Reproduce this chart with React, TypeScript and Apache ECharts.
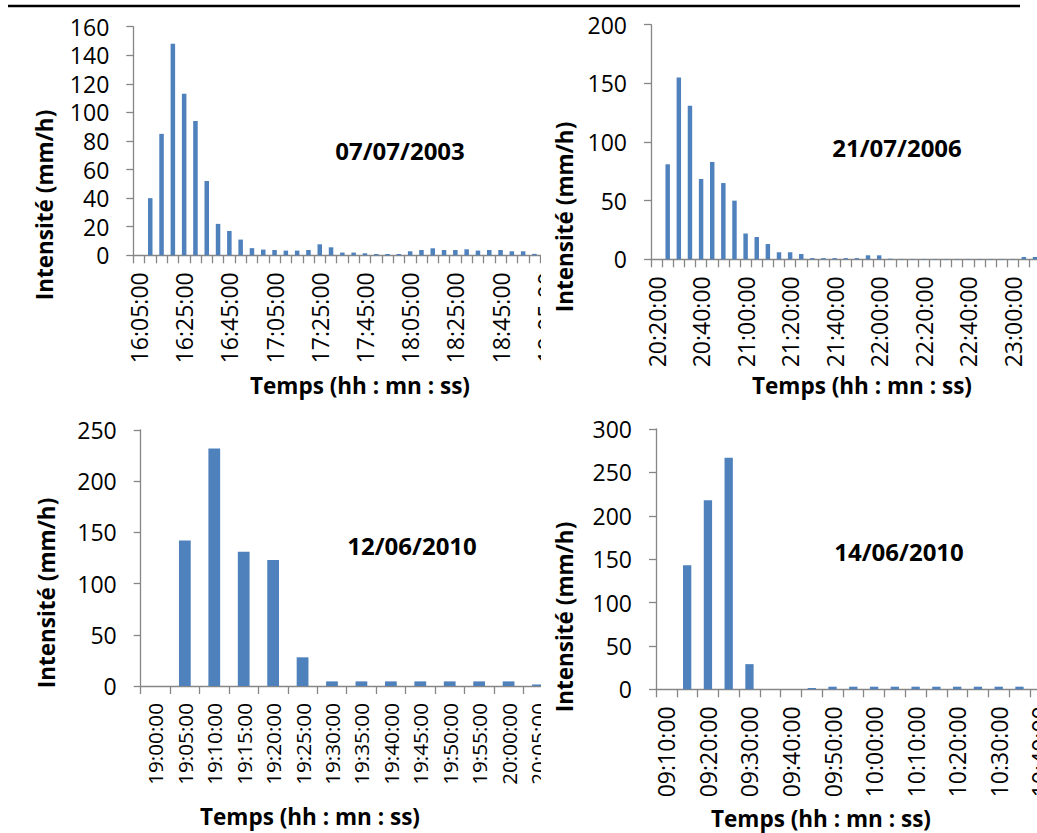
import React, { useEffect, useRef } from "react";
import * as echarts from "echarts";

// ---------- data ----------
const p1Categories = [
  "16:05:00", "16:10:00", "16:15:00", "16:20:00", "16:25:00", "16:30:00", "16:35:00", "16:40:00",
  "16:45:00", "16:50:00", "16:55:00", "17:00:00", "17:05:00", "17:10:00", "17:15:00", "17:20:00",
  "17:25:00", "17:30:00", "17:35:00", "17:40:00", "17:45:00", "17:50:00", "17:55:00", "18:00:00",
  "18:05:00", "18:10:00", "18:15:00", "18:20:00", "18:25:00", "18:30:00", "18:35:00", "18:40:00",
  "18:45:00", "18:50:00", "18:55:00", "19:00:00", "19:05:00",
];
const p1Values = [
  0, 40, 85, 148, 113, 94, 52, 22, 17, 11, 5, 4, 3.7, 3.3, 3.3, 3.7, 7.7, 5.6, 1.9, 1.9, 1.4, 0.9,
  0.9, 0.9, 2.8, 3.7, 4.9, 3.7, 3.7, 4.2, 3.3, 3.7, 3.7, 2.8, 2.8, 1, null,
];

const p2Categories = [
  "20:20:00", "20:25:00", "20:30:00", "20:35:00", "20:40:00", "20:45:00", "20:50:00", "20:55:00",
  "21:00:00", "21:05:00", "21:10:00", "21:15:00", "21:20:00", "21:25:00", "21:30:00", "21:35:00",
  "21:40:00", "21:45:00", "21:50:00", "21:55:00", "22:00:00", "22:05:00", "22:10:00", "22:15:00",
  "22:20:00", "22:25:00", "22:30:00", "22:35:00", "22:40:00", "22:45:00", "22:50:00", "22:55:00",
  "23:00:00", "23:05:00", "23:10:00",
];
const p2Values = [
  0, 81, 155, 131, 68.5, 83, 65, 50, 22, 19, 13, 6, 6, 4.5, 1, 1, 1, 1, 1, 3.4, 3.4, 0.5, 0.3, 0.3,
  0.3, 0.3, 0.3, 0.3, 0.3, 0.3, 0.3, 0.3, 0.3, 2, 2,
];

const p3Categories = [
  "19:00:00", "19:05:00", "19:10:00", "19:15:00", "19:20:00", "19:25:00", "19:30:00",
  "19:35:00", "19:40:00", "19:45:00", "19:50:00", "19:55:00", "20:00:00", "20:05:00",
];
const p3Values = [0, 142, 232, 131, 123, 28, 4.5, 4.5, 4.5, 4.5, 4.5, 4.5, 4.5, 1.5];

const p4Categories = [
  "09:10:00", "09:15:00", "09:20:00", "09:25:00", "09:30:00", "09:35:00", "09:40:00",
  "09:45:00", "09:50:00", "09:55:00", "10:00:00", "10:05:00", "10:10:00", "10:15:00",
  "10:20:00", "10:25:00", "10:30:00", "10:35:00", "10:40:00",
];
const p4Values = [0, 143, 218, 267, 29, 0, 0, 1.5, 3, 3, 3, 3, 3, 3, 3, 3, 3, 3, null];

const yTitle = "Intensité (mm/h)";
const xTitle = "Temps (hh : mn : ss)";
const dates = ["07/07/2003", "21/07/2006", "12/06/2010", "14/06/2010"];

// ---------- styling ----------
const BLUE = "#4F81BD";
const AXIS = "#868686";
const FONT = "Open Sans";

type PanelCfg = {
  cats: string[];
  values: (number | null)[];
  yMax: number;
  yStep: number;
  grid: { left: number; top: number; width: number; height: number };
  labelInterval: number;
  labelSize: number;
  yName: [number, number];
  xName: [number, number];
  date: string;
  datePos: [number, number];
  topLine?: [number, number];
};

function boldText(text: string, x: number, y: number, size: number, rotation = 0) {
  return {
    type: "text",
    x,
    y,
    rotation,
    style: {
      text,
      fill: "#000",
      fontFamily: FONT,
      fontWeight: "bold",
      fontSize: size,
      textAlign: "center",
      textVerticalAlign: "middle",
      align: "center",
      verticalAlign: "middle",
    },
  };
}

function makeOption(c: PanelCfg) {
  const graphic: any[] = [
    boldText(yTitle, c.yName[0], c.yName[1], 22.5, Math.PI / 2),
    boldText(xTitle, c.xName[0], c.xName[1], 22.5),
    boldText(c.date, c.datePos[0], c.datePos[1], 24),
  ];
  if (c.topLine) {
    graphic.push({
      type: "line",
      shape: { x1: c.topLine[0], y1: 6, x2: c.topLine[1], y2: 6 },
      style: { stroke: "#000", lineWidth: 2.5 },
    });
  }
  return {
    animation: false,
    backgroundColor: "#fff",
    textStyle: { fontFamily: FONT },
    grid: { ...c.grid, containLabel: false, outerBoundsMode: "none" },
    xAxis: {
      type: "category",
      data: c.cats,
      boundaryGap: true,
      axisLine: { lineStyle: { color: AXIS, width: 1.3 } },
      axisTick: { show: true, interval: 0, length: 8, lineStyle: { color: AXIS, width: 1.3 } },
      axisLabel: {
        interval: c.labelInterval,
        rotate: 90,
        margin: 17,
        fontSize: c.labelSize,
        fontFamily: FONT,
        color: "#000",
      },
      splitLine: { show: false },
    },
    yAxis: {
      type: "value",
      min: 0,
      max: c.yMax,
      interval: c.yStep,
      axisLine: { show: true, lineStyle: { color: AXIS, width: 1.3 } },
      axisTick: { show: true, length: 7, lineStyle: { color: AXIS, width: 1.3 } },
      axisLabel: { margin: 24, fontSize: 23, lineHeight: 24, fontFamily: FONT, color: "#000" },
      splitLine: { show: false },
    },
    series: [
      {
        type: "bar",
        data: c.values,
        barWidth: "40%",
        itemStyle: { color: BLUE },
      },
    ],
    graphic,
  };
}

const option1 = makeOption({
  cats: p1Categories,
  values: p1Values,
  yMax: 160,
  yStep: 20,
  grid: { left: 133.3, top: 26.7, width: 37 * 11.3, height: 228.6 },
  labelInterval: 3,
  labelSize: 23,
  yName: [44, 205],
  xName: [360, 385],
  date: dates[0],
  datePos: [400, 150],
  topLine: [8, 541],
});

const option2 = makeOption({
  cats: p2Categories,
  values: p2Values,
  yMax: 200,
  yStep: 50,
  grid: { left: 110, top: 24.7, width: 35 * 11.13, height: 234.6 },
  labelInterval: 3,
  labelSize: 23,
  yName: [23, 217],
  xName: [321, 385],
  date: dates[1],
  datePos: [356, 147.5],
  topLine: [0, 479],
});

const option3 = makeOption({
  cats: p3Categories,
  values: p3Values,
  yMax: 250,
  yStep: 50,
  grid: { left: 140.7, top: 15, width: 14 * 29.43, height: 256 },
  labelInterval: 0,
  labelSize: 20.7,
  yName: [46, 178],
  xName: [310, 401],
  date: dates[2],
  datePos: [412, 130],
});

const option4 = makeOption({
  cats: p4Categories,
  values: p4Values,
  yMax: 300,
  yStep: 50,
  grid: { left: 115, top: 14, width: 19 * 20.77, height: 260.3 },
  labelInterval: 1,
  labelSize: 23,
  yName: [23, 202],
  xName: [280, 403],
  date: dates[3],
  datePos: [358, 136],
});

function Panel(props: { left: number; top: number; width: number; height: number; option: any }) {
  const ref = useRef<HTMLDivElement>(null);
  useEffect(() => {
    if (!ref.current) return;
    const chart = echarts.init(ref.current, undefined, { renderer: "svg" });
    chart.setOption(props.option);
    return () => chart.dispose();
  }, [props.option]);
  return (
    <div
      ref={ref}
      style={{
        position: "absolute",
        left: props.left,
        top: props.top,
        width: props.width,
        height: props.height,
        overflow: "hidden",
      }}
    />
  );
}

export default function App() {
  return (
    <div
      style={{
        position: "fixed",
        left: 0,
        top: 0,
        width: 1037,
        height: 833,
        overflow: "hidden",
        background: "#fff",
      }}
    >
      <Panel left={0} top={0} width={541} height={415} option={option1} />
      <Panel left={541} top={0} width={496} height={415} option={option2} />
      <Panel left={0} top={415} width={541} height={418} option={option3} />
      <Panel left={541} top={415} width={496} height={418} option={option4} />
    </div>
  );
}
